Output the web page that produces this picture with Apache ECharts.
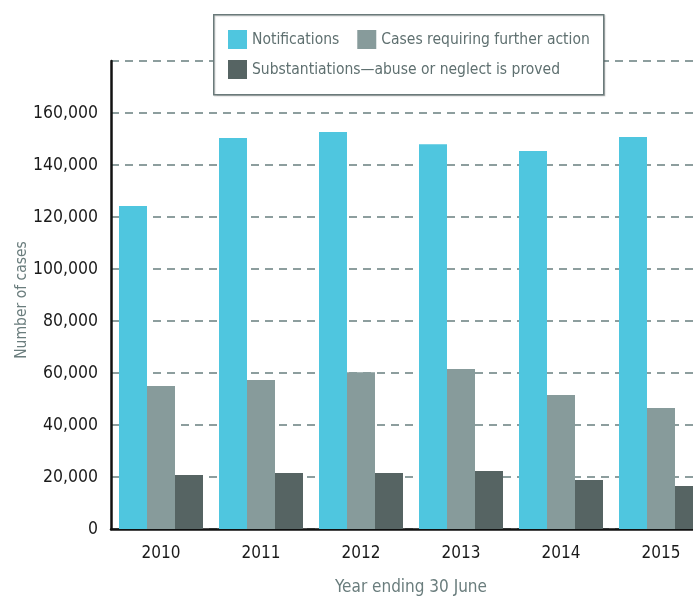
<!DOCTYPE html>
<html><head><meta charset="utf-8">
<script src="https://cdn.jsdelivr.net/npm/echarts@6/dist/echarts.min.js"></script>
<style>html,body{margin:0;padding:0;background:#fff}#c{width:693px;height:600px}</style>
</head><body><div id="c"></div>
<script>
var years = ['2010','2011','2012','2013','2014','2015'];
var notifications = [124200, 150400, 152700, 148000, 145400, 150800];
var furtherAction = [55000, 57300, 60300, 61500, 51500, 46500];
var substantiations = [20800, 21500, 21500, 22300, 18800, 16500];
var seriesNames = ['Notifications', 'Cases requiring further action', 'Substantiations\u2014abuse or neglect is proved'];
var yAxisTitle = 'Number of cases';
var xAxisTitle = 'Year ending 30 June';
var yTicks = {min: 0, max: 180000, interval: 20000};

var FONT = '"DejaVu Sans Condensed","Liberation Sans Narrow",sans-serif';
var chart = echarts.init(document.getElementById('c'));
var legendText = {color: '#5f7070', fontSize: 15.5, fontFamily: FONT};
chart.setOption({
  animation: false,
  grid: {left: 111, right: -18, top: 61, bottom: 71, containLabel: false, outerBoundsMode: 'none'},
  graphic: [{
    type: 'rect', z: 50, left: 213, top: 14,
    shape: {width: 390, height: 80},
    style: {fill: '#fff', stroke: '#6a7a7a', lineWidth: 1.5, shadowColor: 'rgba(0,0,0,0.15)', shadowOffsetX: 1, shadowOffsetY: 1, shadowBlur: 1}
  }, {
    type: 'text', x: 22, y: 300, rotation: Math.PI / 2,
    style: {text: yAxisTitle, fill: '#6a7d7d', font: '15.5px ' + FONT, align: 'center', verticalAlign: 'middle'}
  }],
  legend: [{
    z: 60, left: 228, top: 30, padding: 0, itemWidth: 19, itemHeight: 19, itemGap: 18,
    icon: 'rect', textStyle: legendText,
    data: [seriesNames[0], seriesNames[1]]
  }, {
    z: 60, left: 228, top: 60, padding: 0, itemWidth: 19, itemHeight: 19,
    icon: 'rect', textStyle: legendText,
    data: [seriesNames[2]]
  }],
  xAxis: {
    type: 'category', data: years,
    axisLine: {lineStyle: {color: '#111', width: 2.5}},
    axisTick: {show: false},
    axisLabel: {color: '#1a1a1a', fontSize: 17, fontFamily: FONT, margin: 16},
    name: xAxisTitle, nameLocation: 'middle', nameGap: 50,
    nameTextStyle: {color: '#6a7d7d', fontSize: 17, fontFamily: FONT}
  },
  yAxis: {
    type: 'value', min: yTicks.min, max: yTicks.max, interval: yTicks.interval,
    axisLine: {show: true, lineStyle: {color: '#111', width: 2.5}},
    axisTick: {show: false},
    splitLine: {lineStyle: {color: '#8d9e9e', width: 2, type: [8, 6]}},
    axisLabel: {color: '#1a1a1a', fontSize: 17.5, fontFamily: FONT, margin: 13, showMaxLabel: false,
      formatter: function (v) { return v.toLocaleString('en-US'); }}
  },
  series: [
    {name: seriesNames[0], type: 'bar', data: notifications, barWidth: 28, barGap: '0%', itemStyle: {color: '#4fc6df'}},
    {name: seriesNames[1], type: 'bar', data: furtherAction, barWidth: 28, barGap: '0%', itemStyle: {color: '#879b9b'}},
    {name: seriesNames[2], type: 'bar', data: substantiations, barWidth: 28, barGap: '0%', itemStyle: {color: '#566463'}}
  ]
});
</script></body></html>
